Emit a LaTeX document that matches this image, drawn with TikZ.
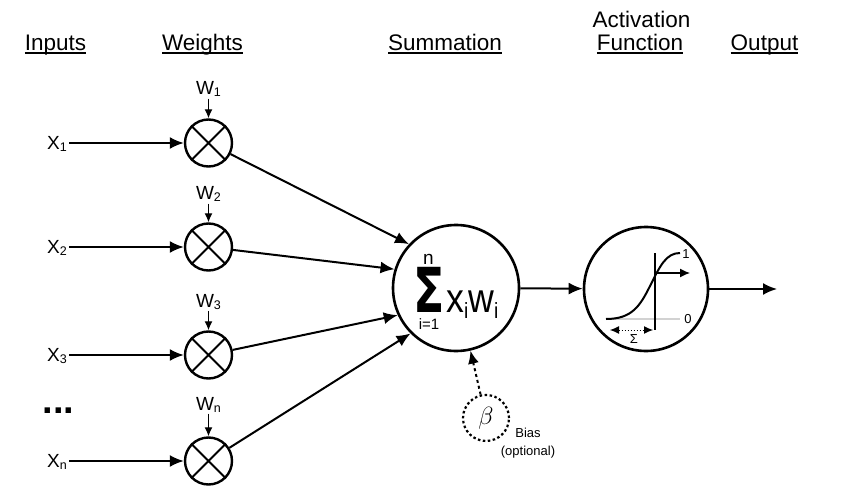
\documentclass[tikz,border=0pt]{standalone}
\usepackage{fontspec}
\usepackage{graphicx}
\setmainfont{Liberation Sans}
\newfontfamily\sigfont{DejaVu Sans}
\usetikzlibrary{arrows.meta}

\newsavebox{\hdbox}
\newcommand{\hdrule}[1]{\sbox{\hdbox}{#1}\rlap{\rule[-2.6pt]{\wd\hdbox}{1.4pt}}\usebox{\hdbox}}
\newcommand{\lowidx}[1]{\raisebox{-2pt}{\fontsize{12.5}{12.5}\selectfont #1}}
\newcommand{\bigidx}[1]{\raisebox{-6pt}{\fontsize{22}{22}\selectfont #1}}

\tikzset{
  head/.style={font=\fontsize{22.5}{23}\selectfont, inner sep=0pt, anchor=base},
  lbl/.style={font=\fontsize{19}{19}\selectfont, inner sep=0pt, anchor=base},
  small/.style={font=\fontsize{13}{13}\selectfont, inner sep=0pt},
  mult/.style={draw, circle, line width=2.4pt, minimum size=47pt, inner sep=0pt},
  bigc/.style={draw, circle, line width=2.6pt, inner sep=0pt},
  arr/.style={line width=2pt, -{Latex[length=14pt,width=12pt]}},
  warr/.style={line width=1.3pt, -{Latex[length=9pt,width=8pt]}},
}

\begin{document}
\begin{tikzpicture}[x=1pt,y=-1pt]
  \useasboundingbox (0,0) rectangle (850,486);
  % column headings
  \node[head] (hin) at (55.5,51) {\hdrule{Inputs}};
  \node[head] (hw) at (202.5,51) {\hdrule{Weights}};
  \node[head] (hs) at (445,51) {\hdrule{Summation}};
  \node[head] (ha) at (641.5,28) {Activation};
  \node[head] (hf) at (640,51) {\hdrule{Function}};
  \node[head] (ho) at (764.5,51) {\hdrule{Output}};

  % summation and activation
  \node[bigc, minimum size=126pt] (sum) at (456,288) {};
  \node[bigc, minimum size=124pt] (act) at (646,289) {};
  \coordinate (out) at (777,289);

  % inputs, weights, products
  \foreach \i/\y/\wy/\ang in {1/143/95/137, 2/247/200/163, 3/355/307/205, n/461/410/225}{
    \node[mult] (m\i) at (208.5,\y) {};
    \draw[line width=2pt] (m\i.45) -- (m\i.225) (m\i.135) -- (m\i.315);
    \node[lbl, anchor=base east] (x\i) at (67,\y+6.5) {X\lowidx{\i}};
    \node[lbl] (w\i) at (208.5,\wy) {W\lowidx{\i}};
    \draw[arr, shorten <=2pt] (x\i.east |- m\i) -- (m\i);
    \draw[warr, shorten <=1.5pt] (w\i.south) -- (m\i.north);
    \draw[arr] (m\i) -- (sum.\ang);
  }
  \node[font=\fontsize{38}{38}\selectfont\bfseries, anchor=base, inner sep=0pt] (dots) at (58.5,413) {...};

  % formula
  \node[anchor=base, inner sep=0pt, font=\fontsize{62}{62}\sigfont\bfseries] (sig) at (429,312) {\scalebox{0.74}[1]{Σ}};
  \node[anchor=base, inner sep=0pt, font=\fontsize{19}{19}\selectfont] (sigtop) at (428.5,264) {n};
  \node[anchor=base, inner sep=0pt, font=\fontsize{15}{15}\selectfont] (sigbot) at (429,329) {i=1};
  \node[anchor=base west, inner sep=0pt, font=\fontsize{41}{41}\selectfont] (prod) at (446,312) {\scalebox{0.87}[1]{x\bigidx{i}w\bigidx{i}}};

  % sigmoid inside
  \draw[gray!35, line width=2pt] (606,319) -- (680,319);
  \draw[line width=1.2pt] (655,253) -- (655,330);
  \draw[line width=2pt] (606,319) .. controls (632,319) and (640,306) .. (650,286)
    .. controls (660,266) and (666,253) .. (680,253);
  \draw[line width=1.3pt, -{Latex[length=10pt,width=9pt]}] (655,273) -- (690,273);
  \draw[line width=1pt, dotted, {Latex[length=9pt,width=8pt]}-{Latex[length=9pt,width=8pt]}] (610,330) -- (653,330);
  \node[small] (one) at (686,254) {1};
  \node[small] (zero) at (688,319) {0};
  \node[small] (sg) at (634,339) {Σ};

  \draw[arr] (sum) -- (act);
  \draw[arr] (act) -- (out);

  % bias
  \node[draw, circle, dash pattern=on 2.5pt off 2.5pt, line width=2.2pt, minimum size=46pt, inner sep=0pt, font=\fontsize{26}{26}\selectfont] (bias) at (486,418) {$\beta$};
  \draw[line width=2pt, dash pattern=on 3pt off 3pt, -{Latex[length=13pt,width=11pt]}] (bias) -- (sum);
  \node[small, align=center, font=\fontsize{13}{18}\selectfont] (btxt) at (528,443) {Bias\\(optional)};
\end{tikzpicture}
\end{document}
